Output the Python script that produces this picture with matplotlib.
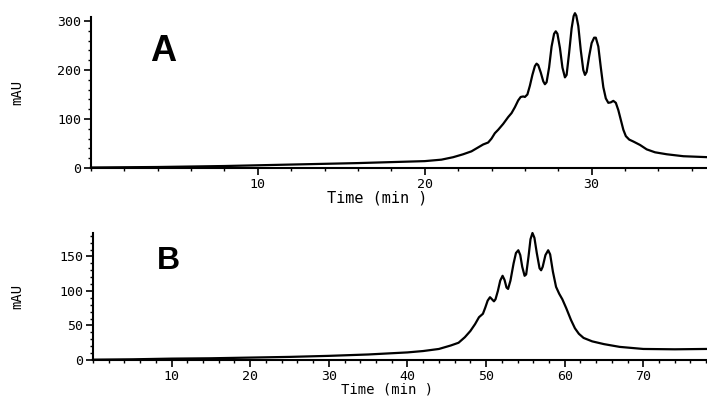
import matplotlib
matplotlib.use("Agg")
import matplotlib.pyplot as plt
from matplotlib.ticker import MultipleLocator

# Panel A chromatogram (time in min, absorbance in mAU)
time_a = [0, 2, 4, 6, 8, 10, 12, 14, 16, 18, 20, 21, 21.7, 22.3, 22.8, 23.2, 23.5, 23.8,
          24.0, 24.2, 24.4, 24.7, 25.0, 25.2, 25.4, 25.6, 25.75, 25.9, 26.0, 26.15, 26.3,
          26.45, 26.6, 26.7, 26.8, 26.95, 27.1, 27.2, 27.3, 27.45, 27.6, 27.75, 27.85,
          27.95, 28.1, 28.25, 28.4, 28.5, 28.65, 28.8, 28.92, 29.0, 29.08, 29.2, 29.35,
          29.5, 29.6, 29.7, 29.85, 30.0, 30.15, 30.25, 30.4, 30.55, 30.7, 30.85, 31.0,
          31.15, 31.3, 31.45, 31.6, 31.75, 31.9, 32.05, 32.25, 32.5, 32.9, 33.3, 33.8,
          34.5, 35.5, 37]
mau_a = [1, 1.5, 2, 3, 4, 5.5, 7, 8.5, 10, 12, 14, 17, 22, 28, 34, 42, 48, 52,
         60, 71, 78, 90, 104, 112, 124, 138, 145, 146, 145, 150, 168,
         190, 208, 213, 210, 195, 177, 171, 175, 205, 248, 274, 279,
         274, 245, 205, 185, 190, 235, 285, 310, 316, 311, 290, 240,
         200, 190, 196, 228, 255, 266, 266, 248, 205, 165, 142, 133,
         134, 137, 133, 118, 98, 78, 65, 58, 54, 47, 38, 32,
         28, 24, 22]

# Panel B chromatogram
time_b = [0, 5, 10, 15, 20, 25, 30, 35, 40, 42, 44, 45.5, 46.5, 47.3, 48, 48.6, 49.1,
          49.4, 49.6, 49.9, 50.2, 50.5, 50.75, 51.0, 51.2, 51.5, 51.8, 52.1, 52.35, 52.6,
          52.8, 53.1, 53.5, 53.8, 54.1, 54.35, 54.6, 54.9, 55.1, 55.4, 55.65, 55.9, 56.15,
          56.45, 56.8, 57.0, 57.2, 57.55, 57.9, 58.15, 58.5, 58.9, 59.3, 59.7, 60.2, 60.8,
          61.3, 61.8, 62.4, 63.5, 65, 67, 70, 74, 78]
mau_b = [0.5, 1, 2, 2.5, 3.5, 4.5, 6, 8, 11, 13, 16, 21, 25, 33, 42, 52, 62,
         65, 67, 76, 86, 91, 88, 85, 88, 100, 115, 122, 116, 105,
         103, 115, 140, 155, 159, 152, 135, 122, 124, 150, 175, 184, 177,
         155, 133, 130, 135, 152, 159, 153, 128, 106, 96, 88, 75, 58,
         46, 38, 32, 27, 23, 19, 16, 15.5, 16]

xticks_a = [10, 20, 30]
yticks_a = [0, 100, 200, 300]
xticks_b = [10, 20, 30, 40, 50, 60, 70]
yticks_b = [0, 50, 100, 150]

mono = "DejaVu Sans Mono"
fig = plt.figure(figsize=(7.07, 3.96), dpi=100)
axA = fig.add_axes([0.1287, 0.5758, 0.871, 0.381])
axB = fig.add_axes([0.1315, 0.0909, 0.8685, 0.3207])

def style(ax, xt, yt, xmax, ymax, yminor, ylab_x):
    ax.set_xlim(0, xmax)
    ax.set_ylim(0, ymax)
    ax.set_xticks(xt)
    ax.set_yticks(yt)
    ax.xaxis.set_minor_locator(MultipleLocator(2))
    ax.yaxis.set_minor_locator(MultipleLocator(yminor))
    for s in ["top", "right"]:
        ax.spines[s].set_visible(False)
    for s in ["left", "bottom"]:
        ax.spines[s].set_linewidth(1.5)
    ax.tick_params(which="major", direction="out", length=5, width=1.2, labelsize=9.5, pad=2)
    ax.tick_params(which="minor", direction="out", length=2.5, width=1)
    for lab in ax.get_xticklabels() + ax.get_yticklabels():
        lab.set_family(mono)
    ax.set_ylabel("mAU", family=mono, fontsize=10)
    ax.yaxis.set_label_coords(ylab_x, 0.5)

axA.plot(time_a, mau_a, color="black", lw=1.6, clip_on=False)
style(axA, xticks_a, yticks_a, 36.9, 308, 20, -0.109)
axA.set_xlabel("Time (min )", family=mono, fontsize=11)
axA.xaxis.set_label_coords(0.464, -0.15)
axA.text(0.096, 0.71, "A", transform=axA.transAxes, fontsize=26,
         family="Liberation Sans", fontweight="bold")

axB.plot(time_b, mau_b, color="black", lw=1.6, clip_on=False)
style(axB, xticks_b, yticks_b, 78.1, 184, 10, -0.112)
axB.set_xlabel("Time (min )", family=mono, fontsize=10)
axB.xaxis.set_label_coords(0.479, -0.175)
axB.text(0.104, 0.72, "B", transform=axB.transAxes, fontsize=23,
         family="Liberation Sans", fontweight="bold")

fig.savefig("out.png", dpi=100)
